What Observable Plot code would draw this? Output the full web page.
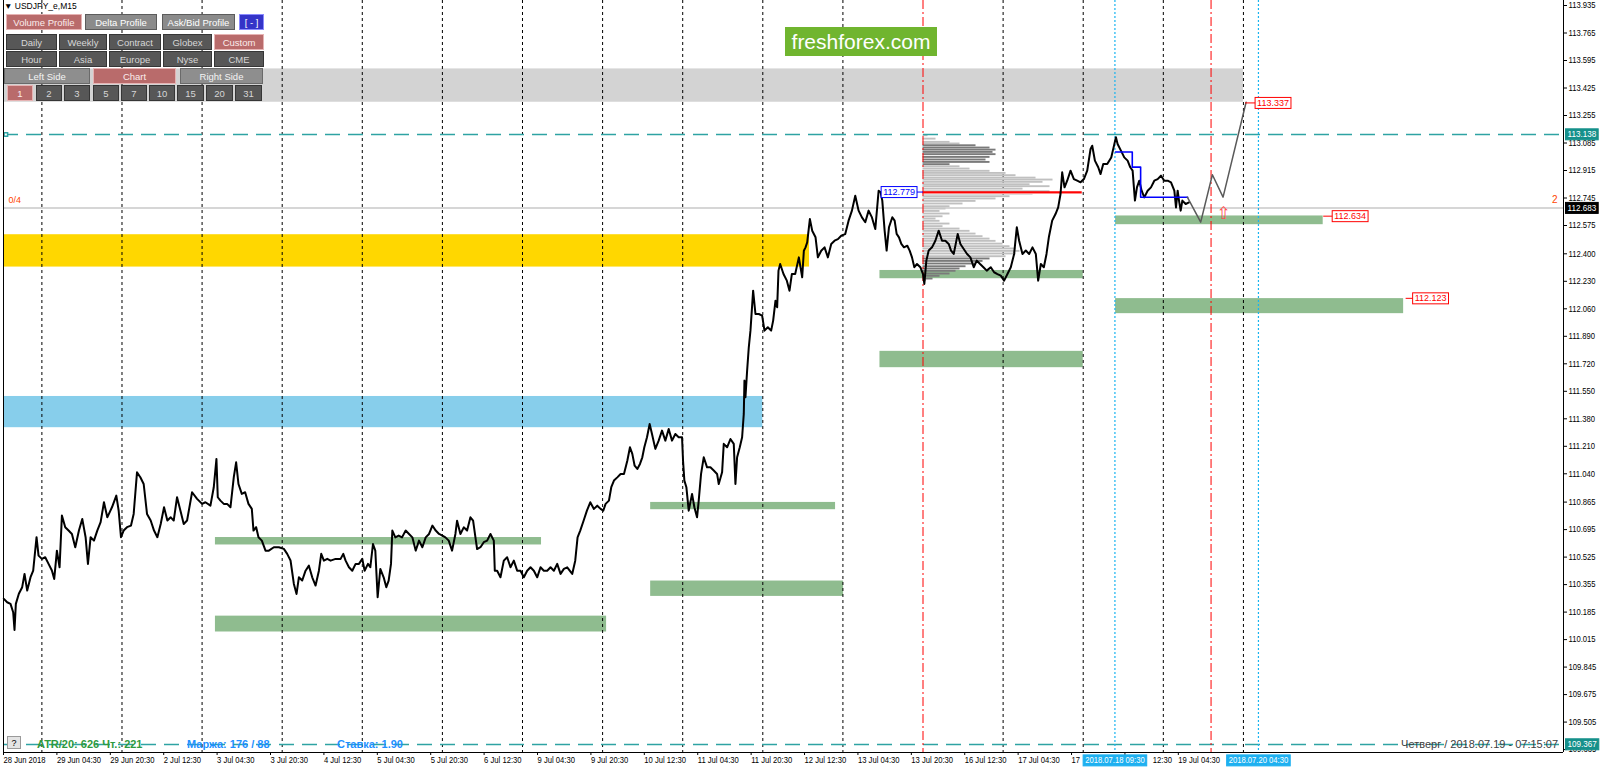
<!DOCTYPE html>
<html>
<head>
<meta charset="utf-8">
<title>USDJPY_e,M15</title>
<script src="https://cdn.jsdelivr.net/npm/d3@7"></script>
<script src="https://cdn.jsdelivr.net/npm/@observablehq/plot@0.6"></script>
<style>
  html, body { margin:0; padding:0; background:#fff; overflow:hidden; }
  #wrap { position:relative; width:1600px; height:770px; overflow:hidden; font-family:"Liberation Sans", Arial, sans-serif; }
  #wrap > svg { position:absolute; left:0; top:0; }
  .btn { position:absolute; box-sizing:border-box; height:16px; display:flex; align-items:center; justify-content:center; font-size:9.5px; border:1px solid #3a3a3a; white-space:nowrap; }
  .note { position:absolute; white-space:nowrap; line-height:12px; }
</style>
</head>
<body>
<div id="wrap"></div>
<script>
// ---------------- DATA (x = trading hours since 28 Jun 2018 12:30, y = price) ----------------
const xTickHours = [0,16,32,48,64,80,96,112,128,144,160,176,192,208,224,240,256,272,288,304,320,336,352];
const xTickLabels = ["28 Jun 2018","29 Jun 04:30","29 Jun 20:30","2 Jul 12:30","3 Jul 04:30","3 Jul 20:30","4 Jul 12:30","5 Jul 04:30","5 Jul 20:30","6 Jul 12:30","9 Jul 04:30","9 Jul 20:30","10 Jul 12:30","11 Jul 04:30","11 Jul 20:30","12 Jul 12:30","13 Jul 04:30","13 Jul 20:30","16 Jul 12:30","17 Jul 04:30","17 Jul 20:30","18 Jul 12:30","19 Jul 04:30"];
const yTicks = [113.935,113.765,113.595,113.425,113.255,113.085,112.915,112.745,112.575,112.400,112.230,112.060,111.890,111.720,111.550,111.380,111.210,111.040,110.865,110.695,110.525,110.355,110.185,110.015,109.845,109.675,109.505,109.335];

const pricePath = [
[0.1,110.267],[1.1,110.246],[2.1,110.236],[2.9,110.184],[3.3,110.075],[3.7,110.236],[4.6,110.298],[5.6,110.339],[6.3,110.421],[7.1,110.318],[8.1,110.401],[8.9,110.442],[9.9,110.648],[10.5,110.534],[11.5,110.514],[12.5,110.524],[13.5,110.483],[14.5,110.442],[15.2,110.390],[16.0,110.565],[16.8,110.462],[17.5,110.782],[18.5,110.710],[19.5,110.689],[20.5,110.668],[21.5,110.586],[22.6,110.689],[23.6,110.761],[24.6,110.648],[25.3,110.483],[26.1,110.648],[27.1,110.627],[28.1,110.689],[29.1,110.741],[30.1,110.864],[31.1,110.771],[32.5,110.833],[33.8,110.905],[34.5,110.813],[35.2,110.648],[36.0,110.689],[37.0,110.710],[38.2,110.720],[39.0,110.792],[40.0,111.049],[41.0,111.019],[42.0,110.977],[43.0,110.792],[44.1,110.751],[45.1,110.689],[46.1,110.648],[47.1,110.730],[48.1,110.833],[49.1,110.751],[50.1,110.771],[51.0,110.751],[52.0,110.895],[53.0,110.813],[54.0,110.730],[55.0,110.751],[56.5,110.926],[58.0,110.885],[59.5,110.854],[60.5,110.864],[62.0,110.843],[63.0,110.957],[63.8,111.132],[64.2,110.895],[65.0,110.874],[66.0,110.854],[67.0,110.854],[68.0,110.833],[69.0,111.019],[69.7,111.111],[70.4,110.977],[71.4,110.916],[72.4,110.926],[73.4,110.854],[74.4,110.823],[74.9,110.689],[75.7,110.710],[76.4,110.648],[77.4,110.627],[78.5,110.565],[79.5,110.565],[81.0,110.586],[82.5,110.586],[84.0,110.576],[85.0,110.545],[86.0,110.504],
[87.0,110.359],[87.8,110.297],[88.5,110.400],[89.5,110.380],[90.5,110.441],[91.5,110.472],[92.5,110.400],[93.5,110.349],[94.5,110.441],[95.2,110.545],[96.0,110.503],[97.0,110.514],[98.0,110.503],[99.5,110.514],[101.0,110.514],[101.8,110.545],[102.5,110.503],[103.5,110.462],[104.5,110.441],[105.5,110.483],[106.5,110.483],[107.5,110.514],[108.2,110.441],[109.2,110.483],[109.9,110.462],[110.7,110.606],[111.4,110.565],[112.1,110.277],[112.9,110.452],[113.9,110.400],[114.7,110.339],[115.4,110.380],[116.1,110.483],[116.5,110.689],[117.4,110.647],[118.4,110.658],[119.4,110.647],[120.5,110.689],[121.5,110.668],[122.5,110.647],[123.5,110.565],[124.5,110.627],[125.5,110.586],[126.5,110.647],[127.5,110.668],[128.5,110.720],[129.5,110.689],[130.5,110.668],[131.5,110.658],[132.4,110.647],[133.4,110.627],[134.4,110.565],[135.4,110.668],[135.9,110.750],[136.9,110.668],[137.9,110.709],[138.9,110.689],[139.9,110.771],[140.7,110.750],[141.4,110.647],[141.9,110.575],[142.9,110.586],[143.9,110.617],[144.9,110.627],[145.9,110.668],[146.9,110.627],[147.2,110.441],[147.9,110.441],[148.9,110.400],[149.9,110.503],[150.9,110.524],[151.9,110.462],[152.9,110.503],[153.9,110.441],[154.9,110.441],[155.9,110.400],[156.9,110.441],[157.9,110.462],[158.9,110.441],[159.9,110.400],[160.9,110.462],[161.9,110.441],[162.9,110.441],[163.9,110.462],[164.9,110.441],[165.9,110.483],[166.9,110.421],[167.9,110.452],[168.9,110.462],[170.4,110.421],[171.3,110.503],[172.0,110.647],[172.8,110.689],[173.8,110.750],[174.8,110.812],[175.8,110.864],
[176.9,110.823],[177.9,110.843],[178.9,110.823],[179.7,110.812],[180.4,110.854],[181.4,110.874],[182.1,110.957],[182.9,110.998],[183.9,111.018],[184.9,111.039],[185.9,111.039],[186.9,111.121],[187.7,111.204],[188.4,111.163],[189.1,111.090],[189.9,111.070],[190.7,111.101],[191.4,111.142],[192.0,111.204],[192.8,111.266],[193.6,111.348],[194.3,111.286],[195.3,111.194],[196.3,111.245],[197.3,111.307],[198.3,111.245],[199.3,111.317],[200.3,111.245],[201.3,111.286],[202.3,111.266],[203.3,111.266],[203.6,111.121],[204.0,110.998],[204.6,110.957],[205.3,110.812],[206.3,110.915],[207.0,110.833],[207.8,110.771],[208.3,110.874],[209.0,111.039],[209.8,111.142],[210.8,111.080],[211.8,111.080],[212.8,111.060],[213.8,111.039],[214.3,110.977],[215.3,111.049],[215.8,111.225],[216.8,111.204],[217.8,111.255],[218.8,111.225],[219.3,110.977],[219.8,111.142],[220.6,111.204],[221.3,111.266],[221.8,111.410],[222.0,111.616],[222.3,111.513],[222.8,111.678],[223.3,111.822],[223.8,111.925],[224.6,112.172],[225.3,112.028],[226.3,112.028],[227.3,112.018],[228.0,111.925],[229.0,111.946],[230.0,111.925],[230.6,111.987],[231.3,112.110],[231.8,112.069],[232.2,112.296],[232.7,112.337],[233.7,112.275],[234.7,112.234],[235.5,112.172],[236.2,112.275],[237.2,112.275],[238.3,112.378],[238.8,112.316],[239.3,112.255],[239.8,112.419],[240.3,112.440],[240.8,112.471],[241.6,112.615],[242.3,112.543],[243.3,112.502],[244.0,112.378],[245.0,112.419],[246.0,112.440],[247.0,112.378],[248.0,112.461],[249.0,112.481],[250.0,112.491],[251.0,112.512],[252.2,112.522],[253.2,112.605],[254.2,112.667],[255.2,112.759],[256.2,112.667],[257.2,112.625],[258.2,112.595],[259.2,112.667],[260.2,112.625],[261.2,112.553],[262.2,112.790],
[262.8,112.780],[263.3,112.729],[264.0,112.543],[264.6,112.420],[265.3,112.564],[266.3,112.626],[267.0,112.605],[267.6,112.523],[268.3,112.502],[269.0,112.461],[269.8,112.440],[270.8,112.450],[271.5,112.420],[272.2,112.378],[272.9,112.317],[273.7,112.337],[274.7,112.317],[275.5,112.275],[275.9,112.214],[276.5,112.358],[277.2,112.420],[278.2,112.440],[279.2,112.481],[280.2,112.543],[281.2,112.481],[282.2,112.481],[283.2,112.461],[283.9,112.420],[284.7,112.399],[285.9,112.523],[286.7,112.461],[287.7,112.430],[288.7,112.399],[289.7,112.378],[290.7,112.317],[291.6,112.358],[292.6,112.337],[293.6,112.317],[294.6,112.296],[295.8,112.317],[296.8,112.286],[297.8,112.275],[298.8,112.265],[299.8,112.234],[300.8,112.275],[301.8,112.317],[302.8,112.399],[303.6,112.564],[304.3,112.481],[305.3,112.399],[306.3,112.420],[307.3,112.399],[308.3,112.440],[309.3,112.399],[310.0,112.234],[310.8,112.337],[311.7,112.317],[312.5,112.399],[313.2,112.502],[314.2,112.605],[315.2,112.646],[316.0,112.687],[316.7,112.770],[317.2,112.904],[317.9,112.811],[318.7,112.852],[319.7,112.914],[320.7,112.862],[321.7,112.852],[322.7,112.842],[323.7,112.862],[324.7,112.914],[325.7,113.048],[326.2,113.068],[327.0,112.976],[328.0,112.935],[328.7,112.893],[329.5,112.955],[330.7,112.955],[331.9,112.996],[332.6,113.058],[333.3,113.120],[333.8,113.079],[334.8,113.038],[335.8,112.996],[336.8,112.976],[337.6,112.935],[338.3,112.914],[339.0,112.729],[339.6,112.811],[340.3,112.852],[341.0,112.790],[341.8,112.749],[342.8,112.790],[343.8,112.811],[344.8,112.852],[345.8,112.862],[346.8,112.883],[347.8,112.852],[348.8,112.852],[349.8,112.842],[350.8,112.790],[351.3,112.687],[351.8,112.790],[352.2,112.729],[352.7,112.667],[353.2,112.729],[354.2,112.708],[355.2,112.718]
];

// rectangles (from hour, to hour, low price, high price)
const grayZones  = [{from:0, to:371.5, low:113.337, high:113.543}];
const goldZones  = [{from:0, to:241.5, low:112.318, high:112.518}];
const blueZones  = [{from:0, to:227.5, low:111.325, high:111.518}];
const greenZones = [
  {from:63.5,  to:161.2, low:110.600, high:110.646},
  {from:63.5,  to:180.7, low:110.062, high:110.160},
  {from:193.9, to:249.3, low:110.818, high:110.863},
  {from:193.9, to:251.7, low:110.282, high:110.377},
  {from:262.6, to:323.5, low:112.246, high:112.297},
  {from:262.6, to:323.5, low:111.696, high:111.797},
  {from:333.2, to:395.4, low:112.580, high:112.634},
  {from:333.2, to:419.5, low:112.030, high:112.123}
];

// volume profile of the custom session (price level, volume)
const profileStart = 275.5;
const volLevels = [113.130,113.109,113.089,113.079,113.068,113.054,113.041,113.027,113.013,112.996,112.980,112.965,112.951,112.938,112.924,112.910,112.897,112.883,112.868,112.856,112.842,112.827,112.815,112.800,112.784,112.769,112.753,112.739,112.724,112.708,112.691,112.677,112.662,112.646,112.629,112.615,112.601,112.584,112.568,112.553,112.539,112.522,112.506,112.491,112.477,112.460,112.444,112.430,112.415,112.399,112.382,112.368,112.353,112.337,112.320,112.306,112.292,112.275,112.261,112.244,112.234];
const volAmounts = [5,13,27,37,53,67,73,70,73,67,63,67,27,37,47,67,83,93,113,130,120,107,127,100,127,110,87,73,53,40,27,23,17,27,20,13,17,27,20,37,47,53,60,67,73,80,87,93,97,93,83,67,60,53,43,37,33,27,17,10,3];
const pocLevels = [{price:112.781, from:275.5, to:323.2}];

// lines
const dayStarts = [11.5,35.5,59.5,83.5,107.5,131.5,155.5,179.5,203.5,227.5,251.5,299.5,323.5,347.5,371.5];
const sessionMarks = [275.5, 361.8];
const cursorMarks = [333.0, 376.0];
const keyLevels = [113.138, 109.367];
const bidPrice = [112.683];
const vwapSteps = [[333.2,113.029],[338.2,112.936],[340.7,112.750],[354.8,112.750]];
const forecastPath = [[354.7,112.750],[358.7,112.596],[362.2,112.889],[365.4,112.750],[372.3,113.337]];
const signalArrows = [[365.6,112.650]];

// tags
const axisTags = ["113.138","112.683","109.367"];
const rightTags = [{text:"112.634", at:395.4, price:112.632},{text:"112.123", at:419.5, price:112.124},{text:"113.337", at:372.3, price:113.332}];
const leftTags = [{text:"112.779", at:275.5, price:112.781}];
const timeTags = [{text:"2018.07.18 09:30", at:333.0},{text:"2018.07.20 04:30", at:376.0}];

// ---------------- CHART ----------------
const X_DOMAIN = [0, 467.4];
const Y_DOMAIN = [109.317, 113.966];
const PX_PER_HOUR = 3.3375;
const labelOfHour = new Map(xTickHours.map((h, i) => [h, xTickLabels[i]]));
const profile = volLevels.map((p, i) => ({p, v: volAmounts[i]}));
const zone = {x1:"from", x2:"to", y1:"low", y2:"high"};

const chart = Plot.plot({
  width: 1600, height: 770,
  marginTop: 0, marginBottom: 18, marginLeft: 3, marginRight: 37,
  x: {domain: X_DOMAIN, axis: null},
  y: {domain: Y_DOMAIN, axis: null},
  style: {background: "transparent", fontFamily: "'Liberation Sans', Arial, sans-serif", fontSize: "9px", overflow: "visible", maxWidth: "none"},
  marks: [
    Plot.rect(grayZones, {...zone, fill: "#d3d3d3"}),
    Plot.rect(goldZones, {...zone, fill: "#ffd700"}),
    Plot.rect(blueZones, {...zone, fill: "#87ceeb"}),
    Plot.rect(greenZones, {...zone, fill: "#8fbc8f"}),
    Plot.ruleX(dayStarts, {stroke: "#000", strokeWidth: 1, strokeDasharray: "3,3"}),
    Plot.rect(profile, {
      x1: () => profileStart, x2: d => profileStart + d.v / PX_PER_HOUR,
      y1: d => d.p - 0.0058, y2: d => d.p + 0.0058,
      fill: d => ((d.p > 112.95 && d.p < 113.075) || d.p < 112.375) ? "#7a7a7a" : "#c0c0c0"
    }),
    Plot.ruleY(pocLevels, {y: d => d.price, x1: "from", x2: "to", stroke: "#ff0000", strokeWidth: 2}),
    Plot.ruleY(pocLevels, {y: d => d.price - 0.008, x1: "from", x2: "to", stroke: "#ff8c8c", strokeWidth: 1}),
    Plot.ruleY(bidPrice, {stroke: "#c8c8c8", strokeWidth: 1.5}),
    Plot.ruleY(keyLevels, {stroke: "#2ea3a3", strokeWidth: 1.5, strokeDasharray: "15,8"}),
    Plot.dot(keyLevels.slice(0, 1), {x: () => 0.7, y: d => d, symbol: "square", r: 2, stroke: "#2ea3a3", fill: "#fff"}),
    Plot.ruleX(sessionMarks, {stroke: "#ff0000", strokeWidth: 1, strokeDasharray: "9,3,2,3"}),
    Plot.ruleX(cursorMarks, {stroke: "#18b4f0", strokeWidth: 1.2, strokeDasharray: "2,2"}),
    Plot.line(pricePath, {x: d => d[0], y: d => d[1], stroke: "#000", strokeWidth: 2}),
    Plot.line(vwapSteps, {x: d => d[0], y: d => d[1], curve: "step-after", stroke: "#0000ff", strokeWidth: 1.6}),
    Plot.line(forecastPath, {x: d => d[0], y: d => d[1], stroke: "#5a5a5a", strokeWidth: 1.5}),
    Plot.text(signalArrows, {x: d => d[0], y: d => d[1], text: () => "\u21E7", fill: "#ff4d4d", fontSize: 17, fontFamily: "DejaVu Sans"}),
    Plot.text(bidPrice, {x: () => X_DOMAIN[0], y: d => d, text: () => "0/4", dx: 5, dy: -8, textAnchor: "start", fill: "#ff4500", fontSize: 9}),
    Plot.text(bidPrice, {x: () => X_DOMAIN[1], y: d => d, text: () => "2", dx: -6, dy: -8, textAnchor: "end", fill: "#ff4500", fontSize: 10}),
    // axes and frame
    Plot.axisY(yTicks, {anchor: "right", tickSize: 3, tickPadding: 2, tickFormat: d => d.toFixed(3)}),
    Plot.axisX(xTickHours, {anchor: "bottom", tickSize: 3, tickPadding: 1, tickFormat: d => labelOfHour.get(d), textAnchor: "start"}),
    Plot.ruleX(X_DOMAIN, {stroke: "#000", strokeWidth: 1}),
    Plot.ruleY([Y_DOMAIN[0]], {stroke: "#000", strokeWidth: 1}),
    // tags
    Plot.text(axisTags, {x: () => X_DOMAIN[1], y: d => +d, text: d => d, dx: 4, textAnchor: "start", fontSize: 9}),
    Plot.text(rightTags, {x: "at", y: "price", text: "text", dx: 11, textAnchor: "start", fontSize: 9}),
    Plot.text(leftTags, {x: "at", y: "price", text: "text", dx: -8, textAnchor: "end", fontSize: 9}),
    Plot.text(timeTags, {x: "at", y: () => Y_DOMAIN[0], text: "text", dy: 8, textAnchor: "middle", fontSize: 9})
  ]
});

const wrap = document.getElementById("wrap");
wrap.appendChild(chart);

// compress axis-style text like the terminal's narrow font
const NS = "http://www.w3.org/2000/svg";
function squeeze(t, k) {
  t.removeAttribute("textLength");
  const w = t.getComputedTextLength();
  if (w > 0) { t.setAttribute("textLength", (w * k).toFixed(1)); t.setAttribute("lengthAdjust", "spacingAndGlyphs"); }
}
chart.querySelectorAll('g[aria-label*="axis"] text').forEach(t => squeeze(t, 0.85));

const tagStyle = {
  "113.138": {bg: "#16908b", border: "#16908b", color: "#fff", squeeze: 0.9},
  "109.367": {bg: "#16908b", border: "#16908b", color: "#fff", squeeze: 0.9},
  "112.683": {bg: "#000", border: "#000", color: "#fff", squeeze: 0.9},
  "112.779": {bg: "#fff", border: "#0000ff", color: "#0000ff", connRight: 6},
  "112.634": {bg: "#fff", border: "#ff0000", color: "#ff0000", connLeft: 9},
  "112.123": {bg: "#fff", border: "#ff0000", color: "#ff0000", connLeft: 7},
  "113.337": {bg: "#fff", border: "#ff0000", color: "#ff0000", connLeft: 10},
  "2018.07.18 09:30": {bg: "#1eb0f0", border: "#1eb0f0", color: "#fff", squeeze: 0.85, time: true},
  "2018.07.20 04:30": {bg: "#1eb0f0", border: "#1eb0f0", color: "#fff", squeeze: 0.85, time: true}
};
const timeRects = [];
chart.querySelectorAll("text").forEach(t => {
  const s = tagStyle[t.textContent.trim()];
  if (!s || t.closest('g[aria-label*="axis"]')) return;
  if (s.squeeze) squeeze(t, s.squeeze);
  const b = t.getBBox();
  const tr = t.getAttribute("transform");
  const r = document.createElementNS(NS, "rect");
  r.setAttribute("x", b.x - 2); r.setAttribute("y", b.y - 0.5);
  r.setAttribute("width", b.width + 4); r.setAttribute("height", b.height + 1);
  r.setAttribute("fill", s.bg); r.setAttribute("stroke", s.border); r.setAttribute("stroke-width", 1);
  if (tr) r.setAttribute("transform", tr);
  t.parentNode.insertBefore(r, t);
  if (s.time) timeRects.push(r);
  if (s.connLeft || s.connRight) {
    const l = document.createElementNS(NS, "line");
    const my = b.y + b.height / 2;
    const x0 = s.connLeft ? b.x - 2 - s.connLeft : b.x + b.width + 2;
    const x1 = s.connLeft ? b.x - 2 : b.x + b.width + 2 + s.connRight;
    l.setAttribute("x1", x0); l.setAttribute("x2", x1); l.setAttribute("y1", my); l.setAttribute("y2", my);
    l.setAttribute("stroke", s.border); l.setAttribute("stroke-width", 1);
    if (tr) l.setAttribute("transform", tr);
    t.parentNode.insertBefore(l, t);
  }
  t.setAttribute("fill", s.color);
});

// time labels partly hidden under the cursor tags keep only their visible part
chart.querySelectorAll('g[aria-label*="x-axis"] text').forEach(t => {
  timeRects.forEach(r => {
    const lb = t.getBoundingClientRect(), rb = r.getBoundingClientRect();
    if (lb.right <= rb.left || lb.left >= rb.right) return;
    const words = t.textContent.split(" ");
    if (lb.left < rb.left) {
      t.textContent = words[0];
      squeeze(t, 0.85);
    } else {
      t.textContent = words[words.length - 1];
      squeeze(t, 0.85);
      const nb = t.getBoundingClientRect();
      const shift = rb.right + 6 - nb.left;
      const tr = t.getAttribute("transform") || "";
      t.setAttribute("transform", (tr + " translate(" + shift.toFixed(1) + ",0)").trim());
    }
  });
});

// ---------------- TERMINAL OVERLAYS ----------------
const palette = {
  on:   {bg: "#b96b6b", fg: "#fbecec", bd: "#e6b3b3"},
  mid:  {bg: "#8b8b8b", fg: "#ffffff", bd: "#5c5c5c"},
  dark: {bg: "#575757", fg: "#d6d6d6", bd: "#363636"},
  side: {bg: "#8e8e8e", fg: "#f4f4f4", bd: "#6a6a6a"},
  blue: {bg: "#3434c8", fg: "#ffffff", bd: "#8a8aff"}
};
const panel = [
  {top: 14, items: [["Volume Profile", 6, 82, "on"], ["Delta Profile", 85, 157, "mid"], ["Ask/Bid Profile", 162, 235, "mid"], ["[ - ]", 239, 264, "blue"]]},
  {top: 34, items: [["Daily", 6, 57, "dark"], ["Weekly", 59, 107, "dark"], ["Contract", 109, 161, "dark"], ["Globex", 163, 212, "dark"], ["Custom", 214, 264, "on"]]},
  {top: 51, items: [["Hour", 6, 57, "dark"], ["Asia", 59, 107, "dark"], ["Europe", 109, 161, "dark"], ["Nyse", 163, 212, "dark"], ["CME", 214, 264, "dark"]]},
  {top: 68, items: [["Left Side", 4, 90, "side"], ["Chart", 93, 176, "on"], ["Right Side", 180, 263, "side"]]},
  {top: 85, items: [["1", 7, 33, "on"], ["2", 36, 62, "dark"], ["3", 64, 90, "dark"], ["5", 93, 119, "dark"], ["7", 121, 147, "dark"], ["10", 149, 175, "dark"], ["15", 177, 204, "dark"], ["20", 206, 233, "dark"], ["31", 235, 262, "dark"]]}
];
function addDiv(cls, text, css) {
  const d = document.createElement("div");
  d.className = cls; d.textContent = text; Object.assign(d.style, css); wrap.appendChild(d); return d;
}
panel.forEach(row => row.items.forEach(([label, x0, x1, kind]) => {
  const c = palette[kind];
  addDiv("btn", label, {left: x0 + "px", top: row.top + "px", width: (x1 - x0) + "px", background: c.bg, color: c.fg, borderColor: c.bd});
}));
addDiv("note", "\u25BC USDJPY_e,M15", {left: "4px", top: "1px", fontSize: "8.5px", color: "#000", lineHeight: "11px"});
addDiv("note", "freshforex.com", {left: "785px", top: "27px", width: "152px", height: "29px", lineHeight: "29px", textAlign: "center", background: "#70b52f", color: "#fff", fontSize: "21px"});
addDiv("note", "?", {left: "7px", top: "736px", width: "14px", height: "13px", lineHeight: "13px", textAlign: "center", background: "#e4e4e4", border: "1px solid #9a9a9a", boxSizing: "border-box", fontSize: "9px", color: "#000"});
addDiv("note", "ATR/20: 626  Чт.: 221", {left: "37px", top: "738px", fontSize: "11px", fontWeight: "bold", color: "#2e9a3e"});
addDiv("note", "Маржа: 176 / 88", {left: "187px", top: "738px", fontSize: "11px", fontWeight: "bold", color: "#1e90ff"});
addDiv("note", "Ставка: 1.90", {left: "337px", top: "738px", fontSize: "11px", fontWeight: "bold", color: "#1e90ff"});
addDiv("note", "Четверг / 2018.07.19 - 07:15:07", {right: "42px", top: "738px", fontSize: "11px", color: "#404040"});
</script>
</body>
</html>
